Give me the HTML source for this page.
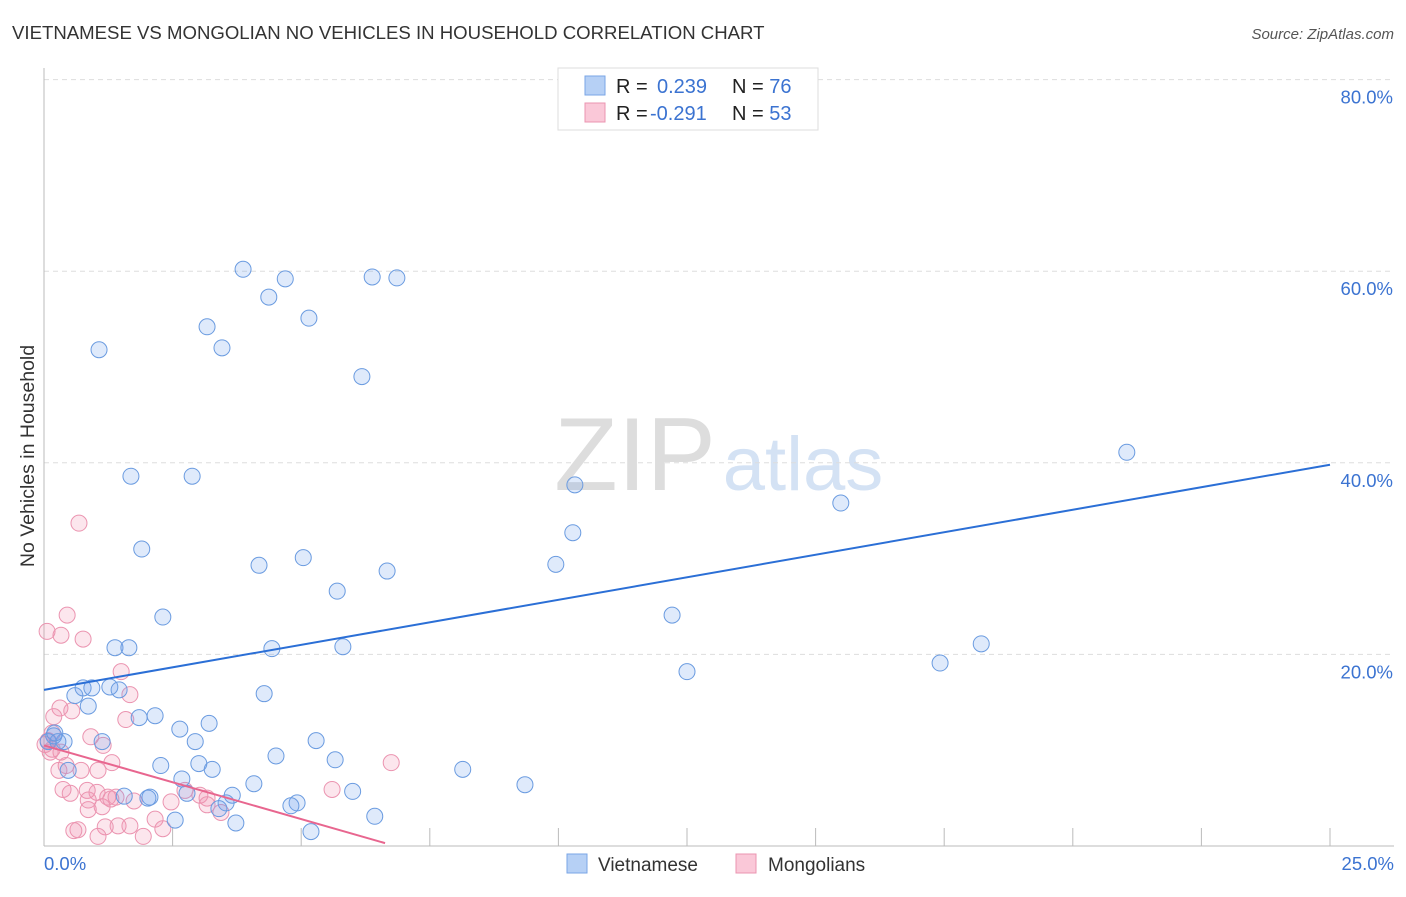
<!DOCTYPE html>
<html><head><meta charset="utf-8"><style>
body{margin:0;background:#fff;font-family:"Liberation Sans",sans-serif;}
svg text{font-family:"Liberation Sans",sans-serif;}
</style></head><body>
<svg id="c" width="1406" height="892">
<text x="12" y="39" font-size="18.6" fill="#333">VIETNAMESE VS MONGOLIAN NO VEHICLES IN HOUSEHOLD CORRELATION CHART</text>
<text x="1394" y="39" font-size="15" fill="#555" font-style="italic" text-anchor="end">Source: ZipAtlas.com</text>
<text x="0" y="0" transform="translate(34,456) rotate(-90)" font-size="19.5" fill="#333" text-anchor="middle">No Vehicles in Household</text>
<text x="635" y="490" font-size="104" fill="#ddd" font-family="Liberation Serif" text-anchor="middle">ZIP</text>
<text x="803" y="490" font-size="76" fill="#d4e2f4" text-anchor="middle">atlas</text>
<g id="grid"></g><g id="pts"></g><g id="lines"></g>
<g>
<rect x="558" y="68" width="260" height="62" fill="#fff" stroke="#ddd"/>
<rect x="585" y="76" width="20" height="19" fill="#b6d0f5" stroke="#7aa6e6"/>
<rect x="585" y="103" width="20" height="19" fill="#fac8d8" stroke="#eb94b0"/>
<text x="616" y="93" font-size="20" fill="#222">R = <tspan fill="#3b73d1" x="657">0.239</tspan><tspan fill="#222" x="732">N = </tspan><tspan fill="#3b73d1">76</tspan></text>
<text x="616" y="120" font-size="20" fill="#222">R = <tspan fill="#3b73d1" x="650">-0.291</tspan><tspan fill="#222" x="732">N = </tspan><tspan fill="#3b73d1">53</tspan></text>
</g>
<g>
<rect x="567" y="854" width="20" height="19" fill="#b6d0f5" stroke="#7aa6e6"/>
<text x="598" y="871" font-size="19" fill="#333">Vietnamese</text>
<rect x="736" y="854" width="20" height="19" fill="#fac8d8" stroke="#eb94b0"/>
<text x="768" y="871" font-size="19" fill="#333">Mongolians</text>
</g>
</svg>
<script>
const xTicks=[0,2.5,5,7.5,10,12.5,15,17.5,20,22.5,25];
const yTicks=[20,40,60,80];
const yTickLabels=["20.0%","40.0%","60.0%","80.0%"];
const blueX=[1.07,3.87,4.69,4.37,6.38,6.86,5.15,3.17,3.46,6.18,21.05,1.69,2.88,10.32,15.49,1.9,10.28,4.18,5.04,6.67,9.95,5.7,2.31,12.21,1.38,1.65,5.81,4.43,18.22,17.42,12.5,4.28,0.6,0.76,0.93,1.28,1.46,0.86,2.16,1.85,3.21,2.64,0.19,0.39,0.08,0.27,1.13,2.94,5.29,4.51,5.66,3.01,2.27,3.27,8.14,2.68,4.08,9.35,0.47,2.78,2.06,2.02,3.66,1.56,6.0,4.92,4.8,3.54,3.4,2.55,3.73,6.43,5.19,0.21];
const blueY=[51.8,60.2,59.2,57.3,59.4,59.3,55.1,54.2,52.0,49.0,41.1,38.6,38.6,37.7,35.8,31.0,32.7,29.3,30.1,28.7,29.4,26.6,23.9,24.1,20.7,20.7,20.8,20.6,21.1,19.1,18.2,15.9,15.7,16.5,16.5,16.6,16.3,14.6,13.6,13.4,12.8,12.2,11.5,10.9,10.9,10.9,10.9,10.9,11.0,9.4,9.0,8.6,8.4,8.0,8.0,7.0,6.5,6.4,7.9,5.5,5.1,5.0,5.3,5.2,5.7,4.5,4.2,4.5,3.9,2.7,2.4,3.1,1.5,11.8];
const pinkX=[0.06,0.68,0.45,0.33,0.76,1.5,1.67,0.31,0.54,0.19,1.59,0.91,1.15,0.08,0.16,1.32,0.43,1.05,0.29,0.72,6.75,5.6,0.37,0.51,0.84,1.03,1.24,1.75,2.47,3.17,3.44,0.86,1.13,1.44,2.16,0.66,0.58,1.19,1.67,2.31,1.93,1.05,2.74,1.4,1.3,0.86,3.03,0.16,0.02,0.33,0.12,3.17];
const pinkY=[22.4,33.7,24.1,22.0,21.6,18.2,15.8,14.4,14.1,13.5,13.2,11.4,10.5,11.0,10.1,8.7,8.4,7.9,7.9,7.9,8.7,5.9,5.9,5.5,5.8,5.6,5.1,4.7,4.6,5.0,3.5,3.8,4.1,2.1,2.8,1.7,1.6,2.0,2.1,1.8,1.0,1.0,5.8,5.1,4.9,4.8,5.3,11.8,10.6,9.8,9.8,4.3];
const blueLine=[[0,16.3],[25,39.8]];
const pinkLine=[[0,10.5],[6.63,0.3]];
const X=v=>44+v*51.44, Y=v=>846-v*9.58;
const NS="http://www.w3.org/2000/svg";
function mk(t,a,p){const e=document.createElementNS(NS,t);for(const k in a)e.setAttribute(k,a[k]);p.appendChild(e);return e;}
const g=document.getElementById('grid');
yTicks.forEach((t,i)=>{
 const l=mk('line',{x1:44,x2:1394,y1:Y(t),y2:Y(t),stroke:'#ddd','stroke-dasharray':'5,4'},g);
 
 
 const tx=mk('text',{x:1393,y:Y(t)+24,'font-size':18.5,fill:'#3b73d1','text-anchor':'end'},g);tx.textContent=yTickLabels[i];
 
 
});
const ly=mk('line',{x1:44,x2:44,y1:68,y2:846,stroke:'#bbb'},g);


const lx=mk('line',{x1:44,x2:1394,y1:846,y2:846,stroke:'#bbb'},g);


xTicks.slice(1).forEach(t=>{
 const l=mk('line',{x1:X(t),x2:X(t),y1:828,y2:846,stroke:'#bbb'},g);
 
 
});
const t0=mk('text',{x:44,y:870,'font-size':18.5,fill:'#3b73d1'},g);t0.textContent='0.0%';


const t1=mk('text',{x:1394,y:870,'font-size':18.5,fill:'#3b73d1','text-anchor':'end'},g);t1.textContent='25.0%';


const p=document.getElementById('pts');
pinkX.forEach((x,i)=>{const c=mk('circle',{cx:X(x),cy:Y(pinkY[i]),r:8,fill:'rgba(240,140,175,0.22)',stroke:'#eb94b0','stroke-width':1},p);
 
 });
blueX.forEach((x,i)=>{const c=mk('circle',{cx:X(x),cy:Y(blueY[i]),r:8,fill:'rgba(110,160,235,0.22)',stroke:'#6a9be0','stroke-width':1},p);
 
 });
const L=document.getElementById('lines');
const bl=mk('line',{x1:X(blueLine[0][0]),y1:Y(blueLine[0][1]),x2:X(blueLine[1][0]),y2:Y(blueLine[1][1]),stroke:'#2b6fd6','stroke-width':2},L);


const pl=mk('line',{x1:X(pinkLine[0][0]),y1:Y(pinkLine[0][1]),x2:X(pinkLine[1][0]),y2:Y(pinkLine[1][1]),stroke:'#e8668f','stroke-width':2},L);


</script>
</body></html>
